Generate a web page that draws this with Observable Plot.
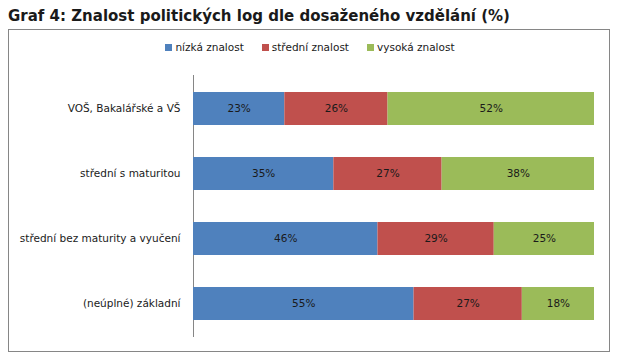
<!DOCTYPE html>
<html>
<head>
<meta charset="utf-8">
<script src="https://cdn.jsdelivr.net/npm/d3@7"></script>
<script src="https://cdn.jsdelivr.net/npm/@observablehq/plot@0.6"></script>
<style>
  html, body { margin: 0; padding: 0; background: #fff; }
  body { width: 620px; height: 363px; position: relative; overflow: hidden; font-family: "DejaVu Sans", sans-serif; }
  #title { position: absolute; left: 8px; top: 6px; font: bold 15px "DejaVu Sans", sans-serif; line-height: 20px; color: #1a1a1a; white-space: nowrap; }
  #box { position: absolute; left: 8px; top: 29px; width: 600px; height: 321px; border: 1px solid #868686; }
  #chart { position: absolute; left: 0; top: 0; }
  #legend { position: absolute; left: 2px; right: 0; top: 10px; display: flex; justify-content: center; font-size: 10.5px; line-height: 14px; color: #1a1a1a; }
  .item { display: flex; align-items: center; margin: 0 9px; }
  .sw { width: 7px; height: 7px; margin-right: 3px; }
</style>
</head>
<body>
<div id="title">Graf 4: Znalost politických log dle dosaženého vzdělání (%)</div>
<div id="box">
  <div id="chart"></div>
  <div id="legend"></div>
</div>
<script>
const categories = ["VOŠ, Bakalářské a VŠ", "střední s maturitou", "střední bez maturity a vyučení", "(neúplné) základní"];
const series = ["nízká znalost", "střední znalost", "vysoká znalost"];
const colors = ["#4F81BD", "#C0504D", "#9BBB59"];
const nizka = [23, 35, 46, 55];
const stredni = [26, 27, 29, 27];
const vysoka = [52, 38, 25, 18];

const valuesBySeries = [nizka, stredni, vysoka];
const data = [];
series.forEach((s, si) => {
  categories.forEach((c, ci) => {
    data.push({category: c, series: s, value: valuesBySeries[si][ci]});
  });
});

const chart = Plot.plot({
  width: 600,
  height: 321,
  marginLeft: 184,
  marginRight: 15,
  marginTop: 45,
  marginBottom: 14,
  style: {fontFamily: "DejaVu Sans, sans-serif", fontSize: "10.5px", color: "#1a1a1a", background: "transparent"},
  x: {axis: null, domain: [0, 1]},
  y: {domain: categories, paddingInner: 0.5, paddingOuter: 0.25, label: null},
  color: {domain: series, range: colors},
  marks: [
    Plot.ruleX([0], {stroke: "#868686"}),
    Plot.barX(data, Plot.stackX({x: "value", y: "category", z: "series", fill: "series", offset: "normalize", order: series})),
    Plot.text(data, Plot.stackX({x: "value", y: "category", z: "series", offset: "normalize", order: series, text: d => d.value + "%", fill: "#1a1a1a", fontSize: 10.5})),
    Plot.axisY({tickSize: 0, tickPadding: 13, label: null, fontSize: 10.5})
  ]
});
document.getElementById("chart").appendChild(chart);

const legend = document.getElementById("legend");
series.forEach((s, i) => {
  const item = document.createElement("div");
  item.className = "item";
  const sw = document.createElement("span");
  sw.className = "sw";
  sw.style.background = colors[i];
  const t = document.createElement("span");
  t.textContent = s;
  item.appendChild(sw);
  item.appendChild(t);
  legend.appendChild(item);
});
</script>
</body>
</html>
